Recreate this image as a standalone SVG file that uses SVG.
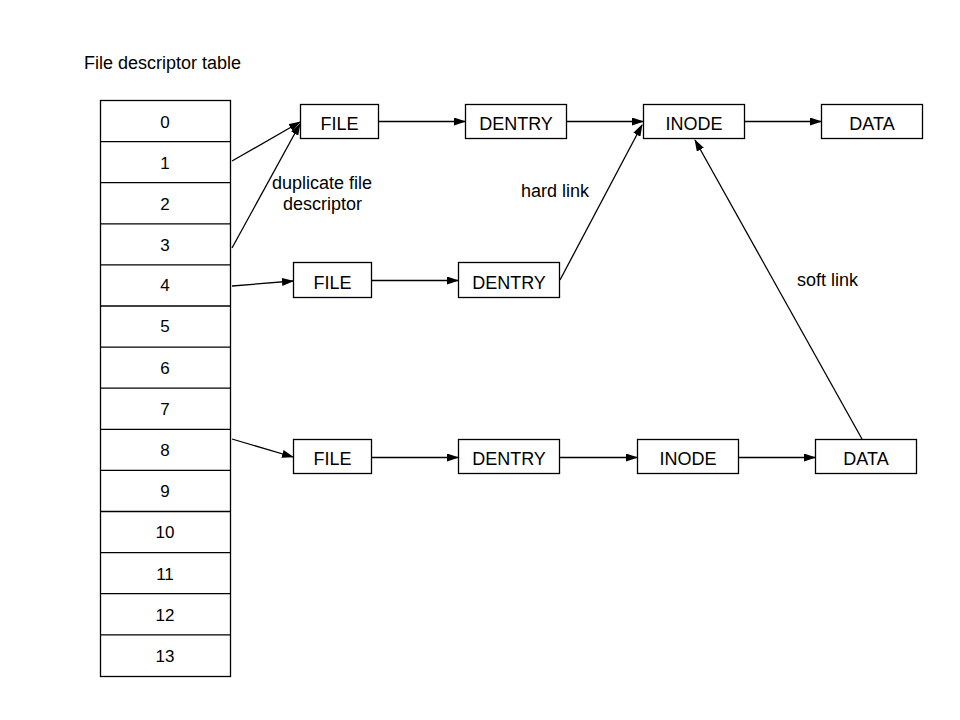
<svg xmlns="http://www.w3.org/2000/svg" width="960" height="720" viewBox="0 0 960 720">
<style>
.box{fill:#fff;stroke:#000;stroke-width:1.3}
.t{font-family:"Liberation Sans",Arial,sans-serif;font-size:18px;fill:#000;text-anchor:middle}
.n{font-family:"Liberation Sans",Arial,sans-serif;font-size:17px;fill:#000;text-anchor:middle}
.l{font-family:"Liberation Sans",Arial,sans-serif;font-size:18px;fill:#000}
.c{fill:none;stroke:#000;stroke-width:1.3;marker-end:url(#ah)}
</style>
<defs>
<marker id="ah" markerWidth="12" markerHeight="8" refX="11" refY="4" orient="auto" markerUnits="userSpaceOnUse">
<path d="M0,0 L12,4 L0,8 Z" fill="#000"/>
</marker>
</defs>
<rect width="960" height="720" fill="#fff"/>
<text class="l" x="84" y="69">File descriptor table</text>
<g id="fdtable">
<rect class="box" x="100.5" y="100.5" width="130" height="576"/>
<g stroke="#000" stroke-width="1.3">
<line x1="100.5" y1="141.6" x2="230.5" y2="141.6"/>
<line x1="100.5" y1="182.7" x2="230.5" y2="182.7"/>
<line x1="100.5" y1="223.8" x2="230.5" y2="223.8"/>
<line x1="100.5" y1="264.9" x2="230.5" y2="264.9"/>
<line x1="100.5" y1="306" x2="230.5" y2="306"/>
<line x1="100.5" y1="347.1" x2="230.5" y2="347.1"/>
<line x1="100.5" y1="388.2" x2="230.5" y2="388.2"/>
<line x1="100.5" y1="429.3" x2="230.5" y2="429.3"/>
<line x1="100.5" y1="470.4" x2="230.5" y2="470.4"/>
<line x1="100.5" y1="511.5" x2="230.5" y2="511.5"/>
<line x1="100.5" y1="552.6" x2="230.5" y2="552.6"/>
<line x1="100.5" y1="593.7" x2="230.5" y2="593.7"/>
<line x1="100.5" y1="634.8" x2="230.5" y2="634.8"/>
</g>
<text class="n" x="165" y="127.5">0</text>
<text class="n" x="165" y="168.5">1</text>
<text class="n" x="165" y="209.5">2</text>
<text class="n" x="165" y="250.5">3</text>
<text class="n" x="165" y="291">4</text>
<text class="n" x="165" y="332">5</text>
<text class="n" x="165" y="373.5">6</text>
<text class="n" x="165" y="414.5">7</text>
<text class="n" x="165" y="456">8</text>
<text class="n" x="165" y="497">9</text>
<text class="n" x="165" y="538">10</text>
<text class="n" x="165" y="579.5">11</text>
<text class="n" x="165" y="620.5">12</text>
<text class="n" x="165" y="661.5">13</text>
</g>
<g id="file1"><rect class="box" x="300.5" y="104.5" width="78" height="34"/><text class="t" x="339.5" y="130">FILE</text></g>
<g id="dentry1"><rect class="box" x="465.5" y="104.5" width="101" height="34"/><text class="t" x="516" y="130">DENTRY</text></g>
<g id="inode1"><rect class="box" x="643.5" y="104.5" width="101" height="34"/><text class="t" x="694" y="130">INODE</text></g>
<g id="data1"><rect class="box" x="821.5" y="104.5" width="101" height="34"/><text class="t" x="872" y="130">DATA</text></g>
<g id="file2"><rect class="box" x="293.5" y="262.5" width="78" height="35"/><text class="t" x="332.5" y="289">FILE</text></g>
<g id="dentry2"><rect class="box" x="458.5" y="262.5" width="101" height="35"/><text class="t" x="509" y="289">DENTRY</text></g>
<g id="file3"><rect class="box" x="293.5" y="439.5" width="78" height="34"/><text class="t" x="332.5" y="465">FILE</text></g>
<g id="dentry3"><rect class="box" x="458.5" y="439.5" width="101" height="34"/><text class="t" x="509" y="465">DENTRY</text></g>
<g id="inode3"><rect class="box" x="637.5" y="439.5" width="101" height="34"/><text class="t" x="688" y="465">INODE</text></g>
<g id="data3"><rect class="box" x="815.5" y="439.5" width="101" height="34"/><text class="t" x="866" y="465">DATA</text></g>
<g id="connectors">
<line class="c" x1="232" y1="161" x2="300" y2="122"/>
<line class="c" x1="232" y1="248" x2="300" y2="124"/>
<line class="c" x1="232" y1="286" x2="293" y2="281"/>
<line class="c" x1="232" y1="439" x2="293" y2="457"/>
<line class="c" x1="378.5" y1="121.5" x2="465" y2="121.5"/>
<line class="c" x1="566.5" y1="121.5" x2="643" y2="121.5"/>
<line class="c" x1="744.5" y1="121.5" x2="821" y2="121.5"/>
<line class="c" x1="371.5" y1="280.5" x2="458" y2="280.5"/>
<line class="c" x1="560" y1="280" x2="642" y2="125"/>
<line class="c" x1="371.5" y1="457.5" x2="458" y2="457.5"/>
<line class="c" x1="559.5" y1="457.5" x2="637" y2="457.5"/>
<line class="c" x1="738.5" y1="457.5" x2="815" y2="457.5"/>
<line class="c" x1="862" y1="439" x2="695" y2="140"/>
</g>
<text class="l" x="272" y="189">duplicate file</text>
<text class="l" x="283" y="210">descriptor</text>
<text class="l" x="521" y="197">hard link</text>
<text class="l" x="797" y="286">soft link</text>
</svg>
